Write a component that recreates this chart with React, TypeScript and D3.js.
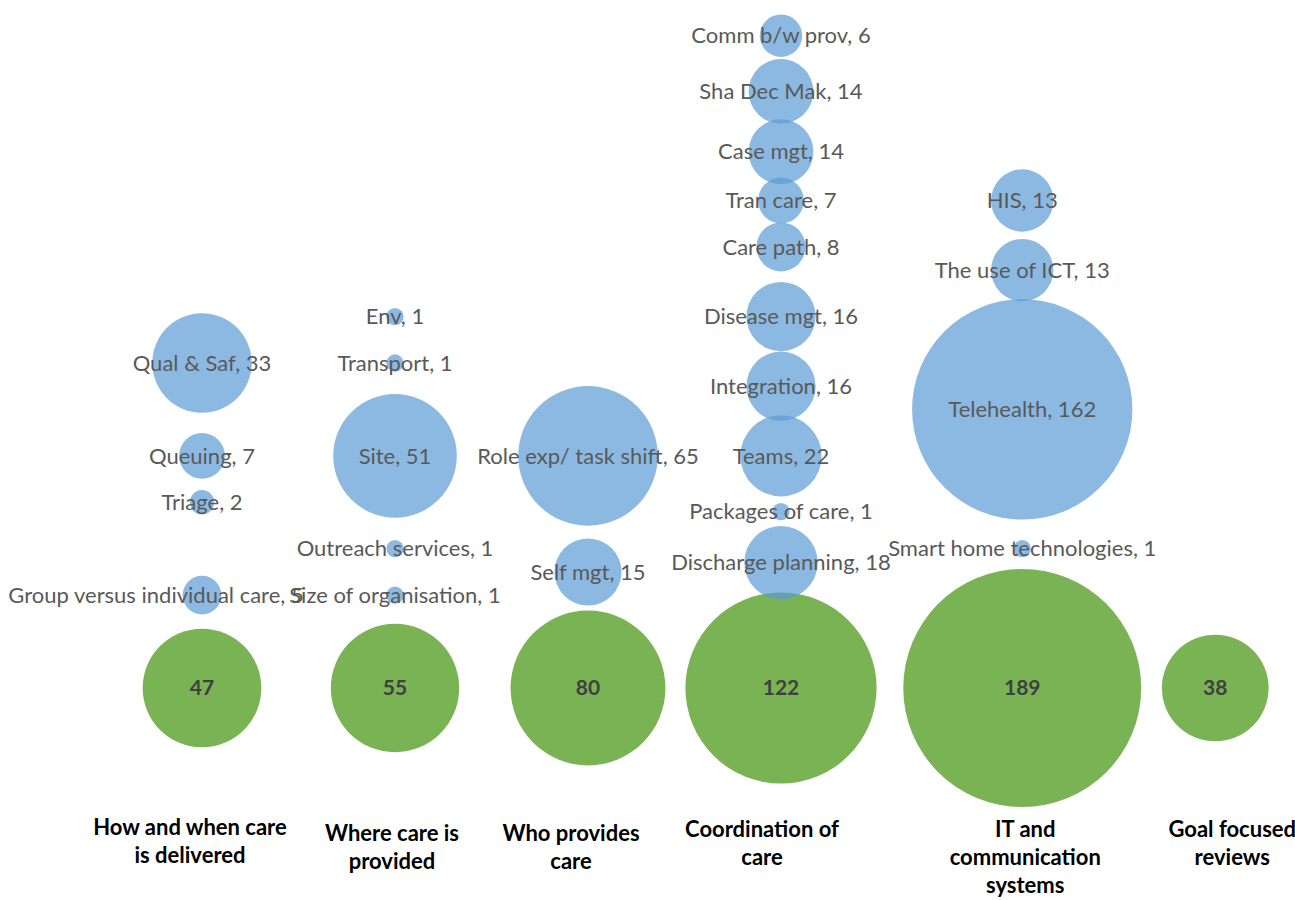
import React, { useEffect, useRef } from 'react'
import * as d3 from 'd3'

// Groups of interventions (green bubbles)
const groupNames = [
  'How and when care is delivered',
  'Where care is provided',
  'Who provides care',
  'Coordination of care',
  'IT and communication systems',
  'Goal focused reviews'
]
const groupLines = [
  ['How and when care', 'is delivered'],
  ['Where care is', 'provided'],
  ['Who provides', 'care'],
  ['Coordination of', 'care'],
  ['IT and', 'communication', 'systems'],
  ['Goal focused', 'reviews']
]
const groupX = [1, 2, 3, 4, 5.25, 6.25]
const groupTotals = [47, 55, 80, 122, 189, 38]

// Sub-interventions (blue bubbles)
const itemLabels = [
  'Qual & Saf', 'Queuing', 'Triage', 'Group versus individual care',
  'Env', 'Transport', 'Site', 'Outreach services', 'Size of organisation',
  'Role exp/ task shift', 'Self mgt',
  'Comm b/w prov', 'Sha Dec Mak', 'Case mgt', 'Tran care', 'Care path',
  'Disease mgt', 'Integration', 'Teams', 'Packages of care', 'Discharge planning',
  'HIS', 'The use of ICT', 'Telehealth', 'Smart home technologies'
]
const itemGroup = [
  0, 0, 0, 0,
  1, 1, 1, 1, 1,
  2, 2,
  3, 3, 3, 3, 3, 3, 3, 3, 3, 3,
  4, 4, 4, 4
]
const itemY = [
  7, 5, 4, 2,
  8, 7, 5, 3, 2,
  5, 2.5,
  14.05, 12.85, 11.55, 10.5, 9.5, 8, 6.5, 5, 3.8, 2.7,
  10.5, 9, 6, 3
]
const itemValues = [
  33, 7, 2, 5,
  1, 1, 51, 1, 1,
  65, 15,
  6, 14, 14, 7, 8, 16, 16, 22, 1, 18,
  13, 13, 162, 1
]

const W = 1295
const H = 900

export default function App() {
  const ref = useRef<SVGSVGElement | null>(null)

  useEffect(() => {
    document.body.style.margin = '0'
    if (!ref.current) {
      return
    }
    const svg = d3.select(ref.current)
    svg.selectAll('*').remove()

    const x = d3.scaleLinear().domain([1, 4]).range([202, 781])
    const y = d3.scaleLinear().domain([0, 14]).range([688, 38])
    const r = d3.scaleSqrt().domain([0, 189]).range([0, 119])

    const groupColor = '#70AD47'
    const itemColor = '#5B9BD5'

    // group bubbles
    svg
      .append('g')
      .selectAll('circle')
      .data(groupTotals)
      .enter()
      .append('circle')
      .attr('cx', (_d, i) => x(groupX[i]))
      .attr('cy', y(0))
      .attr('r', (d) => r(d))
      .attr('fill', groupColor)
      .attr('fill-opacity', 0.93)

    // item bubbles
    svg
      .append('g')
      .selectAll('circle')
      .data(itemValues)
      .enter()
      .append('circle')
      .attr('cx', (_d, i) => x(groupX[itemGroup[i]]))
      .attr('cy', (_d, i) => y(itemY[i]))
      .attr('r', (d) => r(d))
      .attr('fill', itemColor)
      .attr('fill-opacity', 0.7)

    // item labels (the long "Group versus..." label was dragged left in the original)
    const labelNudge = (i: number) => (itemLabels[i].startsWith('Group') ? -46 : 0)
    svg
      .append('g')
      .selectAll('text')
      .data(itemValues)
      .enter()
      .append('text')
      .attr('x', (_d, i) => x(groupX[itemGroup[i]]) + labelNudge(i))
      .attr('y', (_d, i) => y(itemY[i]))
      .attr('dy', '0.35em')
      .attr('text-anchor', 'middle')
      .attr('font-family', 'Lato, sans-serif')
      .attr('font-size', 22)
      .attr('fill', '#595959')
      .text((d, i) => `${itemLabels[i]}, ${d}`)

    // group value labels
    svg
      .append('g')
      .selectAll('text')
      .data(groupTotals)
      .enter()
      .append('text')
      .attr('x', (_d, i) => x(groupX[i]))
      .attr('y', y(0))
      .attr('dy', '0.35em')
      .attr('text-anchor', 'middle')
      .attr('font-family', 'Lato, sans-serif')
      .attr('font-weight', 'bold')
      .attr('font-size', 21)
      .attr('fill', '#404040')
      .text((d) => d)

    // category names under the chart
    const labelShift = [-12, -3, -17, -19, 3, 17]
    const labelTop = [835, 841, 841, 837, 837, 837]
    const names = svg
      .append('g')
      .selectAll('text')
      .data(groupNames)
      .enter()
      .append('text')
      .attr('text-anchor', 'middle')
      .attr('font-family', 'Lato, sans-serif')
      .attr('font-weight', 'bold')
      .attr('font-size', 22)
      .attr('fill', '#000')

    names
      .selectAll('tspan')
      .data((_d, i) => groupLines[i].map((line) => ({ line, i })))
      .enter()
      .append('tspan')
      .attr('x', (d) => x(groupX[d.i]) + labelShift[d.i])
      .attr('y', (d, j) => labelTop[d.i] + j * 28)
      .text((d) => d.line)
  }, [])

  return <svg ref={ref} width={W} height={H} style={{ display: 'block', background: '#fff' }} />
}
